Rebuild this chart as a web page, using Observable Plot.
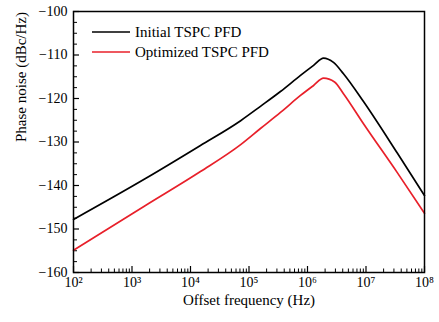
<!DOCTYPE html>
<html>
<head>
<meta charset="utf-8">
<script src="https://cdn.jsdelivr.net/npm/d3@7"></script>
<script src="https://cdn.jsdelivr.net/npm/@observablehq/plot@0.6"></script>
<style>
  html, body { margin: 0; padding: 0; background: #fff; }
  #chart { width: 439px; height: 322px; }
</style>
</head>
<body>
<div id="chart"></div>
<script>
// ---- data ----
const seriesNames = ["Initial TSPC PFD", "Optimized TSPC PFD"];
const seriesColors = ["#000000", "#e8202a"];
const xTitle = "Offset frequency (Hz)";
const yTitle = "Phase noise (dBc/Hz)";

const freqInitial  = [100, 1700, 14800, 72000, 157000, 345000, 759000, 1270000, 1880000, 2780000, 4120000, 9060000, 34500000, 100000000];
const noiseInitial = [-147.8, -138.4, -130.8, -125.1, -121.8, -118.4, -114.7, -112.4, -110.7, -111.7, -114.3, -120.7, -132.6, -142.3];

const freqOptimized  = [100, 1700, 14800, 72000, 157000, 345000, 759000, 1270000, 1880000, 2900000, 4120000, 9060000, 34500000, 100000000];
const noiseOptimized = [-154.9, -144.6, -136.8, -130.6, -126.9, -123.2, -119.3, -117.0, -115.3, -116.2, -118.9, -125.8, -137.1, -146.4];

const xMajorTicks = [1e2, 1e3, 1e4, 1e5, 1e6, 1e7, 1e8];
const xTickLabels = ["10²", "10³", "10⁴", "10⁵", "10⁶", "10⁷", "10⁸"];
const yMajorTicks = [-160, -150, -140, -130, -120, -110, -100];
const yMinorTicks = [-157.5, -155, -152.5, -147.5, -145, -142.5, -137.5, -135, -132.5, -127.5, -125, -122.5, -117.5, -115, -112.5, -107.5, -105, -102.5];
const xMinorTicks = [];
for (let e = 2; e < 8; e++) for (let m = 2; m <= 9; m++) xMinorTicks.push(m * Math.pow(10, e));

const rows = [
  ...freqInitial.map((f, i) => ({f, v: noiseInitial[i], s: seriesNames[0]})),
  ...freqOptimized.map((f, i) => ({f, v: noiseOptimized[i], s: seriesNames[1]}))
];

// ---- layout ----
const W = 439, H = 322, mL = 73, mR = 15, mT = 11, mB = 50;
const fw = W - mL - mR, fh = H - mT - mB;
const font = "'Liberation Serif', 'Times New Roman', serif";
const xLabel = d => xTickLabels[xMajorTicks.indexOf(d)];

const svg = Plot.plot({
  width: W, height: H,
  marginLeft: mL, marginRight: mR, marginTop: mT, marginBottom: mB,
  style: {fontFamily: font, fontSize: "14px", background: "#fff", color: "#000"},
  x: {type: "log", domain: [1e2, 1e8]},
  y: {domain: [-160, -100]},
  color: {domain: seriesNames, range: seriesColors},
  marks: [
    // inward ticks
    Plot.ruleX(xMinorTicks, {x: d => d, insetTop: fh - 3.5, stroke: "#000", strokeWidth: 1}),
    Plot.ruleX(xMajorTicks, {x: d => d, insetTop: fh - 6, stroke: "#000", strokeWidth: 1.2}),
    Plot.ruleY(yMinorTicks, {y: d => d, insetRight: fw - 4, stroke: "#000", strokeWidth: 1}),
    Plot.ruleY(yMajorTicks, {y: d => d, insetRight: fw - 6, stroke: "#000", strokeWidth: 1.2}),
    Plot.axisX({ticks: xMajorTicks, tickFormat: xLabel, tickSize: 0, tickPadding: 5, label: null,
      fontSize: 14, fontFamily: font, fontVariant: "normal"}),
    Plot.axisY({ticks: yMajorTicks, tickSize: 0, tickPadding: 6, label: null,
      fontSize: 14, fontFamily: font, fontVariant: "normal"}),
    Plot.text([xTitle], {text: d => d, frameAnchor: "bottom", lineAnchor: "middle", dy: 28, fontSize: 15, fontFamily: font, fill: "#000"}),
    Plot.text([yTitle], {text: d => d, frameAnchor: "left", dx: -52, rotate: -90, fontSize: 15, fontFamily: font, fill: "#000"}),
    Plot.line(rows, {x: "f", y: "v", z: "s", stroke: "s", strokeWidth: 1.7, curve: "monotone-x"}),
    Plot.frame({stroke: "#000", strokeWidth: 1.5})
  ]
});

// legend inside the frame (top-left)
const g = d3.select(svg).append("g").attr("font-family", font).attr("font-size", 15).attr("text-anchor", "start");
seriesNames.forEach((name, i) => {
  const y = 32 + i * 20;
  g.append("line").attr("x1", 92).attr("x2", 130).attr("y1", y).attr("y2", y)
    .attr("stroke", seriesColors[i]).attr("stroke-width", 1.6);
  g.append("text").attr("x", 135).attr("y", y).attr("dy", "0.35em").attr("fill", "#000").text(name);
});

document.getElementById("chart").appendChild(svg);
</script>
</body>
</html>
